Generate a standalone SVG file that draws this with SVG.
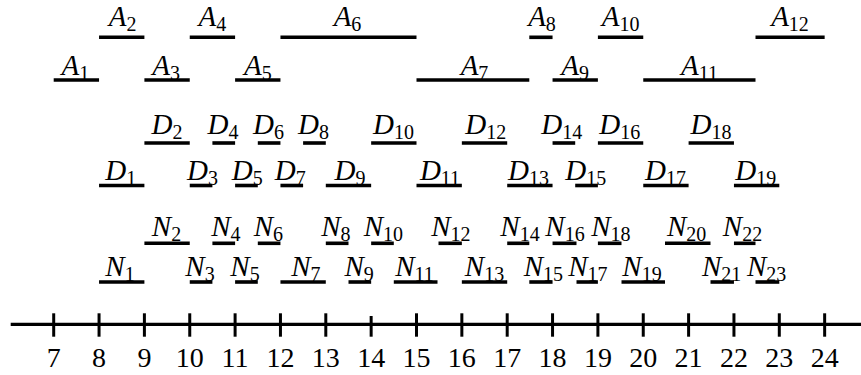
<svg xmlns="http://www.w3.org/2000/svg" width="861" height="375" viewBox="0 0 861 375">
<style>
.bar{stroke:#000;stroke-width:3.6;stroke-linecap:butt;fill:none}
.lab{font-family:"Liberation Serif","DejaVu Serif",serif;font-size:29px;font-style:italic;text-anchor:middle;fill:#000}
.sub{font-style:normal;font-size:20px}
.num{font-family:"Liberation Serif","DejaVu Serif",serif;font-size:28px;text-anchor:middle;fill:#000}
.axis{stroke:#000;stroke-width:3.3;fill:none}
.tick{stroke:#000;stroke-width:3;fill:none}
</style>
<rect width="861" height="375" fill="#fff"/>
<g id="A-intervals">
<g id="A1"><line class="bar" x1="53.7" y1="80" x2="99.05" y2="80"/><text class="lab" x="75.4" y="75">A<tspan class="sub" dy="5">1</tspan></text></g>
<g id="A2"><line class="bar" x1="99.05" y1="37.3" x2="144.4" y2="37.3"/><text class="lab" x="122.7" y="26">A<tspan class="sub" dy="5">2</tspan></text></g>
<g id="A3"><line class="bar" x1="144.4" y1="80" x2="189.75" y2="80"/><text class="lab" x="166.1" y="75">A<tspan class="sub" dy="5">3</tspan></text></g>
<g id="A4"><line class="bar" x1="189.75" y1="37.3" x2="235.1" y2="37.3"/><text class="lab" x="212.4" y="26">A<tspan class="sub" dy="5">4</tspan></text></g>
<g id="A5"><line class="bar" x1="235.1" y1="80" x2="280.45" y2="80"/><text class="lab" x="257.8" y="75">A<tspan class="sub" dy="5">5</tspan></text></g>
<g id="A6"><line class="bar" x1="280.45" y1="37.3" x2="416.5" y2="37.3"/><text class="lab" x="347.5" y="26">A<tspan class="sub" dy="5">6</tspan></text></g>
<g id="A7"><line class="bar" x1="416.5" y1="80" x2="529.3" y2="80"/><text class="lab" x="474.5" y="75">A<tspan class="sub" dy="5">7</tspan></text></g>
<g id="A8"><line class="bar" x1="529.3" y1="37.3" x2="552.55" y2="37.3"/><text class="lab" x="542" y="26">A<tspan class="sub" dy="5">8</tspan></text></g>
<g id="A9"><line class="bar" x1="552.55" y1="80" x2="597.9" y2="80"/><text class="lab" x="575.2" y="75">A<tspan class="sub" dy="5">9</tspan></text></g>
<g id="A10"><line class="bar" x1="597.9" y1="37.3" x2="643.25" y2="37.3"/><text class="lab" x="620.6" y="26">A<tspan class="sub" dy="5">10</tspan></text></g>
<g id="A11"><line class="bar" x1="643.25" y1="80" x2="755.5" y2="80"/><text class="lab" x="699.4" y="75">A<tspan class="sub" dy="5">11</tspan></text></g>
<g id="A12"><line class="bar" x1="755.5" y1="37.3" x2="824.65" y2="37.3"/><text class="lab" x="790" y="26">A<tspan class="sub" dy="5">12</tspan></text></g>
</g>
<g id="D-intervals">
<g id="D1"><line class="bar" x1="99.05" y1="185.5" x2="144.4" y2="185.5"/><text class="lab" x="120.7" y="180">D<tspan class="sub" dy="5">1</tspan></text></g>
<g id="D2"><line class="bar" x1="144.4" y1="143" x2="189.75" y2="143"/><text class="lab" x="167.1" y="133.5">D<tspan class="sub" dy="5">2</tspan></text></g>
<g id="D3"><line class="bar" x1="189.75" y1="185.5" x2="212.4" y2="185.5"/><text class="lab" x="202.5" y="180">D<tspan class="sub" dy="5">3</tspan></text></g>
<g id="D4"><line class="bar" x1="212.4" y1="143" x2="235.1" y2="143"/><text class="lab" x="223" y="133.5">D<tspan class="sub" dy="5">4</tspan></text></g>
<g id="D5"><line class="bar" x1="235.1" y1="185.5" x2="257.8" y2="185.5"/><text class="lab" x="247.2" y="180">D<tspan class="sub" dy="5">5</tspan></text></g>
<g id="D6"><line class="bar" x1="257.8" y1="143" x2="280.45" y2="143"/><text class="lab" x="268.4" y="133.5">D<tspan class="sub" dy="5">6</tspan></text></g>
<g id="D7"><line class="bar" x1="280.45" y1="185.5" x2="303.1" y2="185.5"/><text class="lab" x="290.2" y="180">D<tspan class="sub" dy="5">7</tspan></text></g>
<g id="D8"><line class="bar" x1="303.1" y1="143" x2="325.8" y2="143"/><text class="lab" x="313.4" y="133.5">D<tspan class="sub" dy="5">8</tspan></text></g>
<g id="D9"><line class="bar" x1="325.8" y1="185.5" x2="371.15" y2="185.5"/><text class="lab" x="350" y="180">D<tspan class="sub" dy="5">9</tspan></text></g>
<g id="D10"><line class="bar" x1="371.15" y1="143" x2="416.5" y2="143"/><text class="lab" x="393.4" y="133.5">D<tspan class="sub" dy="5">10</tspan></text></g>
<g id="D11"><line class="bar" x1="416.5" y1="185.5" x2="461.85" y2="185.5"/><text class="lab" x="440" y="180">D<tspan class="sub" dy="5">11</tspan></text></g>
<g id="D12"><line class="bar" x1="461.85" y1="143" x2="507.2" y2="143"/><text class="lab" x="485.8" y="133.5">D<tspan class="sub" dy="5">12</tspan></text></g>
<g id="D13"><line class="bar" x1="507.2" y1="185.5" x2="552.55" y2="185.5"/><text class="lab" x="528.4" y="180">D<tspan class="sub" dy="5">13</tspan></text></g>
<g id="D14"><line class="bar" x1="552.55" y1="143" x2="575.2" y2="143"/><text class="lab" x="561.7" y="133.5">D<tspan class="sub" dy="5">14</tspan></text></g>
<g id="D15"><line class="bar" x1="575.2" y1="185.5" x2="597.9" y2="185.5"/><text class="lab" x="585.8" y="180">D<tspan class="sub" dy="5">15</tspan></text></g>
<g id="D16"><line class="bar" x1="597.9" y1="143" x2="643.25" y2="143"/><text class="lab" x="619.7" y="133.5">D<tspan class="sub" dy="5">16</tspan></text></g>
<g id="D17"><line class="bar" x1="643.25" y1="185.5" x2="688.6" y2="185.5"/><text class="lab" x="665.4" y="180">D<tspan class="sub" dy="5">17</tspan></text></g>
<g id="D18"><line class="bar" x1="688.6" y1="143" x2="733.95" y2="143"/><text class="lab" x="711" y="133.5">D<tspan class="sub" dy="5">18</tspan></text></g>
<g id="D19"><line class="bar" x1="733.95" y1="185.5" x2="779.3" y2="185.5"/><text class="lab" x="755.7" y="180">D<tspan class="sub" dy="5">19</tspan></text></g>
</g>
<g id="N-intervals">
<g id="N1"><line class="bar" x1="99.05" y1="282" x2="144.4" y2="282"/><text class="lab" x="120" y="275.5">N<tspan class="sub" dy="5">1</tspan></text></g>
<g id="N2"><line class="bar" x1="144.4" y1="243.3" x2="189.75" y2="243.3"/><text class="lab" x="166.5" y="236">N<tspan class="sub" dy="5">2</tspan></text></g>
<g id="N3"><line class="bar" x1="189.75" y1="282" x2="212.4" y2="282"/><text class="lab" x="200" y="275.5">N<tspan class="sub" dy="5">3</tspan></text></g>
<g id="N4"><line class="bar" x1="212.4" y1="243.3" x2="235.1" y2="243.3"/><text class="lab" x="225.8" y="236">N<tspan class="sub" dy="5">4</tspan></text></g>
<g id="N5"><line class="bar" x1="235.1" y1="282" x2="257.8" y2="282"/><text class="lab" x="245" y="275.5">N<tspan class="sub" dy="5">5</tspan></text></g>
<g id="N6"><line class="bar" x1="257.8" y1="243.3" x2="280.45" y2="243.3"/><text class="lab" x="268.4" y="236">N<tspan class="sub" dy="5">6</tspan></text></g>
<g id="N7"><line class="bar" x1="280.45" y1="282" x2="325.8" y2="282"/><text class="lab" x="305.8" y="275.5">N<tspan class="sub" dy="5">7</tspan></text></g>
<g id="N8"><line class="bar" x1="325.8" y1="243.3" x2="348.5" y2="243.3"/><text class="lab" x="335.8" y="236">N<tspan class="sub" dy="5">8</tspan></text></g>
<g id="N9"><line class="bar" x1="348.5" y1="282" x2="371.15" y2="282"/><text class="lab" x="359.2" y="275.5">N<tspan class="sub" dy="5">9</tspan></text></g>
<g id="N10"><line class="bar" x1="371.15" y1="243.3" x2="393.8" y2="243.3"/><text class="lab" x="383.3" y="236">N<tspan class="sub" dy="5">10</tspan></text></g>
<g id="N11"><line class="bar" x1="393.8" y1="282" x2="437.5" y2="282"/><text class="lab" x="414.5" y="275.5">N<tspan class="sub" dy="5">11</tspan></text></g>
<g id="N12"><line class="bar" x1="438.5" y1="243.3" x2="461.85" y2="243.3"/><text class="lab" x="450.8" y="236">N<tspan class="sub" dy="5">12</tspan></text></g>
<g id="N13"><line class="bar" x1="461.85" y1="282" x2="507.2" y2="282"/><text class="lab" x="484.5" y="275.5">N<tspan class="sub" dy="5">13</tspan></text></g>
<g id="N14"><line class="bar" x1="507.2" y1="243.3" x2="529.3" y2="243.3"/><text class="lab" x="520" y="236">N<tspan class="sub" dy="5">14</tspan></text></g>
<g id="N15"><line class="bar" x1="529.3" y1="282" x2="552.55" y2="282"/><text class="lab" x="543.3" y="275.5">N<tspan class="sub" dy="5">15</tspan></text></g>
<g id="N16"><line class="bar" x1="552.55" y1="243.3" x2="576.5" y2="243.3"/><text class="lab" x="565" y="236">N<tspan class="sub" dy="5">16</tspan></text></g>
<g id="N17"><line class="bar" x1="576.5" y1="282" x2="597.9" y2="282"/><text class="lab" x="587.8" y="275.5">N<tspan class="sub" dy="5">17</tspan></text></g>
<g id="N18"><line class="bar" x1="597.9" y1="243.3" x2="621.5" y2="243.3"/><text class="lab" x="610.8" y="236">N<tspan class="sub" dy="5">18</tspan></text></g>
<g id="N19"><line class="bar" x1="621.5" y1="282" x2="665" y2="282"/><text class="lab" x="642" y="275.5">N<tspan class="sub" dy="5">19</tspan></text></g>
<g id="N20"><line class="bar" x1="665" y1="243.3" x2="710.5" y2="243.3"/><text class="lab" x="686.7" y="236">N<tspan class="sub" dy="5">20</tspan></text></g>
<g id="N21"><line class="bar" x1="710.5" y1="282" x2="733.95" y2="282"/><text class="lab" x="721.7" y="275.5">N<tspan class="sub" dy="5">21</tspan></text></g>
<g id="N22"><line class="bar" x1="733.95" y1="243.3" x2="755.5" y2="243.3"/><text class="lab" x="742.5" y="236">N<tspan class="sub" dy="5">22</tspan></text></g>
<g id="N23"><line class="bar" x1="755.5" y1="282" x2="779.3" y2="282"/><text class="lab" x="766.7" y="275.5">N<tspan class="sub" dy="5">23</tspan></text></g>
</g>
<g id="axis">
<line class="axis" x1="10.7" y1="324.3" x2="861" y2="324.3"/>
<g class="ticks">
<line class="tick" x1="53.7" y1="313.3" x2="53.7" y2="336.7"/>
<line class="tick" x1="99.05" y1="313.3" x2="99.05" y2="336.7"/>
<line class="tick" x1="144.4" y1="313.3" x2="144.4" y2="336.7"/>
<line class="tick" x1="189.75" y1="313.3" x2="189.75" y2="336.7"/>
<line class="tick" x1="235.1" y1="313.3" x2="235.1" y2="336.7"/>
<line class="tick" x1="280.45" y1="313.3" x2="280.45" y2="336.7"/>
<line class="tick" x1="325.8" y1="313.3" x2="325.8" y2="336.7"/>
<line class="tick" x1="371.15" y1="316" x2="371.15" y2="336.7"/>
<line class="tick" x1="416.5" y1="313.3" x2="416.5" y2="336.7"/>
<line class="tick" x1="461.85" y1="313.3" x2="461.85" y2="336.7"/>
<line class="tick" x1="507.2" y1="313.3" x2="507.2" y2="336.7"/>
<line class="tick" x1="552.55" y1="313.3" x2="552.55" y2="336.7"/>
<line class="tick" x1="597.9" y1="313.3" x2="597.9" y2="336.7"/>
<line class="tick" x1="643.25" y1="313.3" x2="643.25" y2="336.7"/>
<line class="tick" x1="688.6" y1="313.3" x2="688.6" y2="336.7"/>
<line class="tick" x1="733.95" y1="313.3" x2="733.95" y2="336.7"/>
<line class="tick" x1="779.3" y1="313.3" x2="779.3" y2="336.7"/>
<line class="tick" x1="824.65" y1="313.3" x2="824.65" y2="336.7"/>
</g>
<g class="labels">
<text class="num" x="53.7" y="367">7</text>
<text class="num" x="99.05" y="367">8</text>
<text class="num" x="144.4" y="367">9</text>
<text class="num" x="189.75" y="367">10</text>
<text class="num" x="235.1" y="367">11</text>
<text class="num" x="280.45" y="367">12</text>
<text class="num" x="325.8" y="367">13</text>
<text class="num" x="371.15" y="367">14</text>
<text class="num" x="416.5" y="367">15</text>
<text class="num" x="461.85" y="367">16</text>
<text class="num" x="507.2" y="367">17</text>
<text class="num" x="552.55" y="367">18</text>
<text class="num" x="597.9" y="367">19</text>
<text class="num" x="643.25" y="367">20</text>
<text class="num" x="688.6" y="367">21</text>
<text class="num" x="733.95" y="367">22</text>
<text class="num" x="779.3" y="367">23</text>
<text class="num" x="824.65" y="367">24</text>
</g>
</g>
</svg>
